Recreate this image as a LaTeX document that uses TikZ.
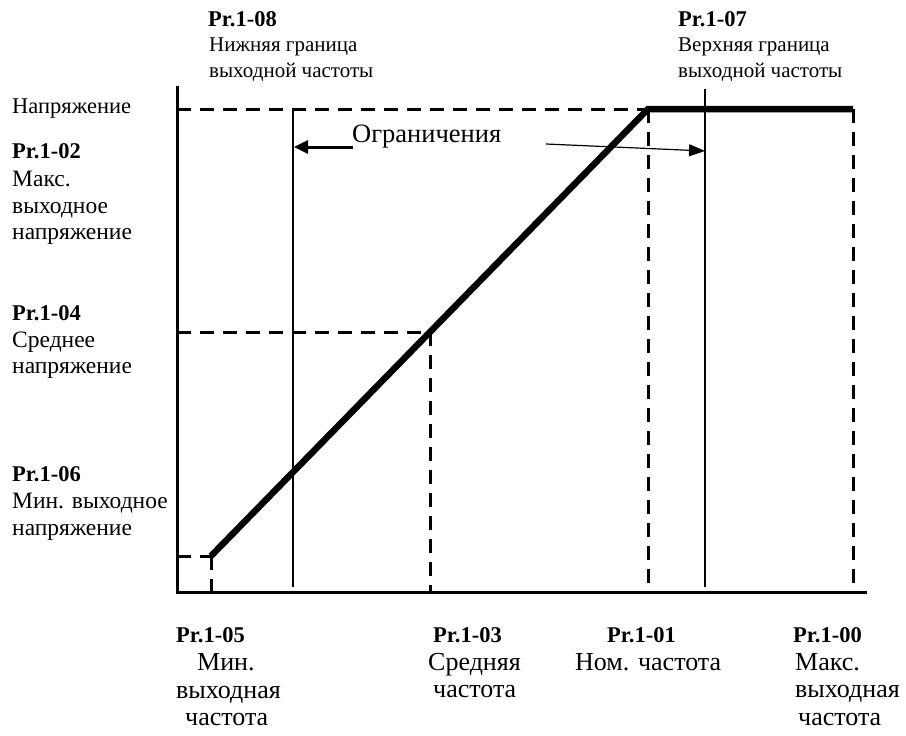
\documentclass[tikz,border=0pt]{standalone}
\usepackage{fontspec}
\setmainfont{Liberation Serif}
\usetikzlibrary{arrows.meta}
\tikzset{
  lab/.style={anchor=base west, inner sep=0pt, font=\fontsize{21}{25}\selectfont},
  leftlab/.style={lab, font=\fontsize{23.5}{27}\selectfont},
  botlab/.style={lab, font=\fontsize{26}{28}\selectfont},
  labb/.style={lab, font=\fontsize{22.5}{25}\selectfont\bfseries},
  biglab/.style={anchor=base west, inner sep=0pt, font=\fontsize{26.5}{30}\selectfont},
  axis/.style={line width=3pt},
  thinline/.style={line width=1.5pt},
  dashline/.style={line width=3pt, dash pattern=on 14pt off 9pt},
  curve/.style={line width=6.5pt},
}
\newcommand\mylab[5]{\node[#1] (#2) at (#3,#4) {#5};}
\begin{document}
\begin{tikzpicture}[x=1pt,y=-1pt]
\useasboundingbox (0,0) rectangle (906,736);
% key points
\coordinate (O) at (177,592);
\coordinate (Ytop) at (177,86);
\coordinate (Xend) at (867,592);
\coordinate (Ymax) at (177,109);
\coordinate (Ymid) at (177,332);
\coordinate (Ymin) at (177,556);
\coordinate (P0) at (211,556);
\coordinate (P0b) at (211,592);
\coordinate (Pm) at (430,332);
\coordinate (Pmb) at (430,592);
\coordinate (Pk) at (648,109);
\coordinate (Pkb) at (648,592);
\coordinate (Pe) at (853,109);
\coordinate (Peb) at (853,592);
\coordinate (L8t) at (293,109);
\coordinate (L8b) at (293,587);
\coordinate (L7t) at (705,89);
\coordinate (L7b) at (705,587);
\coordinate (A1s) at (353,147);
\coordinate (A1e) at (294,147);
\coordinate (A2s) at (546,144);
\coordinate (A2e) at (705,151);

% dashed guides
\draw[dashline] (Ymax) -- (Pk);
\draw[dashline] (Ymid) -- (Pm);
\draw[dashline] (Pm) -- (Pmb);
\draw[dashline] (Ymin) -- (P0);
\draw[dashline] (P0) -- (P0b);
\draw[dashline] (Pk) -- (Pkb);
\draw[dashline] (Pe) -- (Peb);
% limit lines
\draw[thinline] (L8t) -- (L8b);
\draw[thinline] (L7t) -- (L7b);
% axes
\draw[axis] (Ytop) -- (O) -- (Xend);
% V/f curve
\draw[curve, line cap=butt, line join=miter] (P0) -- (Pk) -- (Pe);
% limit arrows
\draw[line width=3pt, -{Triangle[length=14pt,width=13pt]}] (A1s) -- (A1e);
\draw[line width=1.2pt, -{Triangle[length=16pt,width=12pt]}] (A2s) -- (A2e);
\mylab{biglab}{lim}{352}{142}{Ограничения}

% top labels
\mylab{labb}{t8a}{208}{27}{Pr.1-08}
\mylab{lab}{t8b}{209}{52}{Нижняя граница}
\mylab{lab}{t8c}{209}{77}{выходной частоты}
\mylab{labb}{t7a}{678}{27}{Pr.1-07}
\mylab{lab}{t7b}{678}{52}{Верхняя граница}
\mylab{lab}{t7c}{678}{77}{выходной частоты}

% left labels
\node[lab, font=\fontsize{22.5}{25}\selectfont] (v0) at (12,113) {Напряжение};
\mylab{labb}{v2a}{12}{158}{Pr.1-02}
\mylab{leftlab}{v2b}{12}{186}{Макс.}
\mylab{leftlab}{v2c}{12}{213}{выходное}
\mylab{leftlab}{v2d}{12}{239}{напряжение}
\mylab{labb}{v4a}{12}{320}{Pr.1-04}
\mylab{leftlab}{v4b}{12}{347}{Среднее}
\mylab{leftlab}{v4c}{12}{373}{напряжение}
\mylab{labb}{v6a}{12}{481}{Pr.1-06}
\mylab{leftlab}{v6b}{12}{508}{Мин. выходное}
\mylab{leftlab}{v6c}{12}{535}{напряжение}

% bottom labels
\mylab{labb}{f5a}{176}{642}{Pr.1-05}
\mylab{botlab}{f5b}{197}{670}{Мин.}
\mylab{botlab}{f5c}{176}{698}{выходная}
\mylab{botlab}{f5d}{185}{725}{частота}
\mylab{labb}{f3a}{433}{642}{Pr.1-03}
\mylab{botlab}{f3b}{428}{670}{Средняя}
\mylab{botlab}{f3c}{433}{697}{частота}
\mylab{labb}{f1a}{607}{642}{Pr.1-01}
\mylab{botlab}{f1b}{575}{670}{Ном. частота}
\mylab{labb}{f0a}{793}{642}{Pr.1-00}
\mylab{botlab}{f0b}{795}{670}{Макс.}
\mylab{botlab}{f0c}{795}{697}{выходная}
\mylab{botlab}{f0d}{798}{725}{частота}
\end{tikzpicture}
\end{document}
